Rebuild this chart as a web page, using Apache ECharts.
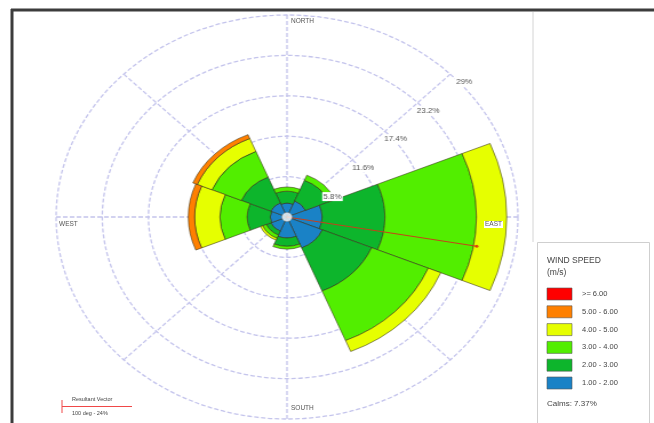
<!DOCTYPE html>
<html><head><meta charset="utf-8">
<script src="https://cdn.jsdelivr.net/npm/echarts@6/dist/echarts.min.js"></script>
<style>
html,body{margin:0;padding:0;background:#fff;}
#wrap{position:relative;width:654px;height:423px;overflow:hidden;background:#fff;}
#rose{position:absolute;left:0;top:0;width:654px;height:423px;transform-origin:287px 217px;transform:scaleX(1.143);}
#over{position:absolute;left:0;top:0;width:654px;height:423px;pointer-events:none;}
</style></head><body>
<div id="wrap"><div id="rose"></div><div id="over"></div></div>
<script>
// ---- data ----
const directions = ['N', 'NE', 'E', 'SE', 'S', 'SW', 'W', 'NW'];
const speedClasses = ['1.00 - 2.00', '2.00 - 3.00', '3.00 - 4.00', '4.00 - 5.00', '5.00 - 6.00', '>= 6.00'];
const freq_1_2 = [2.0, 2.5, 4.4, 4.8, 3.0, 2.2, 2.1, 2.2];
const freq_2_3 = [1.7, 3.2, 7.9, 6.7, 1.2, 0.6, 2.9, 4.0];
const freq_3_4 = [0.6, 0.8, 11.5, 7.7, 0.4, 0.5, 3.4, 4.0];
const freq_4_5 = [0, 0, 3.8, 1.7, 0, 0.3, 3.2, 2.0];
const freq_5_6 = [0, 0, 0, 0, 0, 0, 0.8, 0.6];
const freq_6_up = [0, 0, 0, 0, 0, 0, 0, 0];
const ringTicks = [5.8, 11.6, 17.4, 23.2, 29];
const directionNames = ['NORTH', 'EAST', 'SOUTH', 'WEST'];
const resultantDirDeg = 100;
const resultantPct = 24.2;
const calmsPct = 7.37;

// ---- styles ----
const speedColors = ['#1a82c6', '#0db52c', '#52ee00', '#e6ff00', '#ff8000', '#ff0000'];
const gridColor = '#c4c4ec';
const FONT = 'Liberation Sans, Arial, sans-serif';
const CX = 287, CY = 217, R = 202;
const allFreq = [freq_1_2, freq_2_3, freq_3_4, freq_4_5, freq_5_6, freq_6_up];
const ringMax = ringTicks[ringTicks.length - 1];
const ringStep = ringTicks[0];

const rose = echarts.init(document.getElementById('rose'), null, {renderer: 'canvas'});
const polarCommon = {center: [CX, CY], radius: R};
const polarLabels = {center: [CX + 23, CY + 11], radius: R};
const hiddenAxis = {axisLine: {show: false}, axisTick: {show: false}, axisLabel: {show: false}, splitLine: {show: false}};

const barSeries = allFreq.map((arr, i) => ({
  type: 'bar', name: speedClasses[i], coordinateSystem: 'polar', polarIndex: 1,
  stack: 'wind', barCategoryGap: '0%', silent: true,
  data: arr.map(v => v > 0 ? v : '-'),
  itemStyle: {color: speedColors[i], borderColor: 'rgba(50,45,20,0.8)', borderWidth: 0.7},
  z: 3
}));

rose.setOption({
  animation: false,
  polar: [polarCommon, polarCommon, polarLabels],
  angleAxis: [
    Object.assign({polarIndex: 0, type: 'value', min: 0, max: 360, interval: 45, startAngle: 90, clockwise: true}, hiddenAxis,
      {splitLine: {show: true, lineStyle: {color: gridColor, width: 1.3, type: [4, 2]}}}),
    Object.assign({polarIndex: 1, type: 'category', data: directions, startAngle: 112.5, clockwise: true, boundaryGap: true}, hiddenAxis),
    Object.assign({polarIndex: 2, type: 'value', min: 0, max: 360, startAngle: 45, clockwise: true}, hiddenAxis)
  ],
  radiusAxis: [
    Object.assign({polarIndex: 0, type: 'value', min: 0, max: ringMax, interval: ringStep}, hiddenAxis,
      {splitLine: {show: true, lineStyle: {color: gridColor, width: 1.3, type: [4, 2]}}}),
    Object.assign({polarIndex: 1, type: 'value', min: 0, max: ringMax}, hiddenAxis),
    Object.assign({polarIndex: 2, type: 'value', min: 0, max: ringMax, interval: ringStep, z: 10}, hiddenAxis,
      {axisLabel: {show: true, showMinLabel: false, inside: true, margin: 4, fontSize: 7, color: '#555', fontFamily: FONT, backgroundColor: '#fff', padding: [1, 1],
        formatter: v => { const t = ringTicks.find(x => Math.abs(x - v) < 1e-6); return t ? t + '%' : ''; }}})
  ],
  series: barSeries.concat([
    {type: 'line', coordinateSystem: 'polar', polarIndex: 0, silent: true, z: 6,
     data: [[0, resultantDirDeg], [resultantPct, resultantDirDeg]],
     lineStyle: {color: '#c8401a', width: 1}, symbol: 'none'},
    {type: 'scatter', coordinateSystem: 'polar', polarIndex: 0, silent: true, z: 7,
     data: [[resultantPct, resultantDirDeg]], symbolSize: 3, itemStyle: {color: '#e02010'}},
    {type: 'scatter', coordinateSystem: 'polar', polarIndex: 0, silent: true, z: 7,
     data: [[0, 0]], symbolSize: 9, itemStyle: {color: '#fff', borderColor: '#777', borderWidth: 0.5}}
  ])
});

// ---- overlay: frame, legend, direction labels ----
const over = echarts.init(document.getElementById('over'), null, {renderer: 'canvas'});
const g = [];
g.push({type: 'line', shape: {x1: 11, y1: 10, x2: 654, y2: 10}, style: {stroke: '#3c3c3c', lineWidth: 3}});
g.push({type: 'line', shape: {x1: 12, y1: 9, x2: 12, y2: 423}, style: {stroke: '#3c3c3c', lineWidth: 3}});
g.push({type: 'line', shape: {x1: 533, y1: 12, x2: 533, y2: 242}, style: {stroke: '#d4d4d4', lineWidth: 1}});
g.push({type: 'rect', shape: {x: 537.5, y: 242.5, width: 112, height: 200}, style: {fill: '#fff', stroke: '#cfcfcf', lineWidth: 1}});
g.push({type: 'text', x: 547, y: 256, style: {text: 'WIND SPEED', fontSize: 8.5, fill: '#444', fontFamily: FONT}});
g.push({type: 'text', x: 547, y: 268, style: {text: '(m/s)', fontSize: 8.5, fill: '#444', fontFamily: FONT}});
const rowsTop = 288, rowStep = 17.8;
for (let k = 0; k < speedClasses.length; k++) {
  const i = speedClasses.length - 1 - k;
  const y = rowsTop + k * rowStep;
  g.push({type: 'rect', shape: {x: 547, y: y, width: 25, height: 12}, style: {fill: speedColors[i], stroke: '#555', lineWidth: 0.6}});
  g.push({type: 'text', x: 582, y: y + 6, style: {text: speedClasses[i], fontSize: 7.5, fill: '#444', fontFamily: FONT, verticalAlign: 'middle'}});
}
g.push({type: 'text', x: 547, y: rowsTop + 6 * rowStep + 5, style: {text: 'Calms: ' + calmsPct.toFixed(2) + '%', fontSize: 8, fill: '#444', fontFamily: FONT}});
// resultant vector key
g.push({type: 'line', shape: {x1: 62, y1: 400, x2: 62, y2: 413}, style: {stroke: '#f04848', lineWidth: 1}});
g.push({type: 'line', shape: {x1: 62, y1: 406.5, x2: 132, y2: 406.5}, style: {stroke: '#f04848', lineWidth: 1}});
g.push({type: 'text', x: 72, y: 396, style: {text: 'Resultant Vector', fontSize: 5.5, fill: '#444', fontFamily: FONT}});
g.push({type: 'text', x: 72, y: 410, style: {text: resultantDirDeg + ' deg - ' + Math.round(resultantPct) + '%', fontSize: 5.5, fill: '#444', fontFamily: FONT}});
// direction labels
const dirPos = [[290, 18, 'left'], [503, 221, 'right'], [290, 405, 'left'], [58, 221, 'left']];
directionNames.forEach((n, i) => {
  g.push({type: 'text', x: dirPos[i][0], y: dirPos[i][1], z: 20,
    style: {text: n, fontSize: 6.5, fill: '#555', fontFamily: FONT, align: dirPos[i][2], backgroundColor: '#fff', padding: [0, 1]}});
});
over.setOption({animation: false, graphic: {elements: g}});
</script>
</body></html>
